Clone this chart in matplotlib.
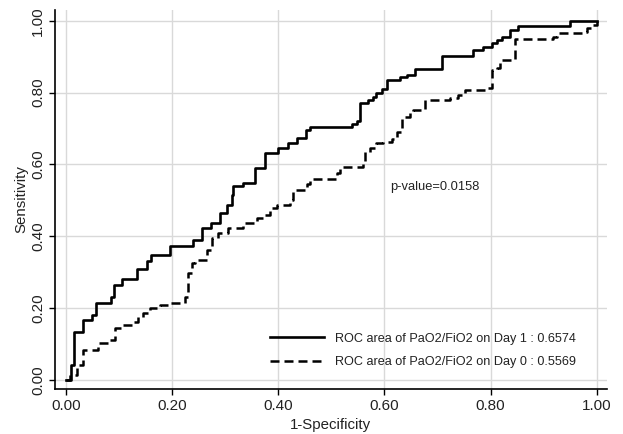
import matplotlib.pyplot as plt

plt.rcParams['font.family'] = ['Liberation Sans', 'DejaVu Sans']

# ROC points (1-specificity, sensitivity)
fpr_day1 = [0.0, 0.009, 0.015, 0.033, 0.049, 0.057, 0.085, 0.090, 0.105, 0.134,
            0.152, 0.160, 0.196, 0.239, 0.256, 0.273, 0.290, 0.303, 0.312, 0.315,
            0.334, 0.356, 0.375, 0.400, 0.419, 0.435, 0.452, 0.460, 0.538, 0.548,
            0.554, 0.570, 0.578, 0.585, 0.595, 0.604, 0.629, 0.642, 0.658, 0.708,
            0.767, 0.786, 0.802, 0.812, 0.821, 0.837, 0.852, 0.950, 1.0]
tpr_day1 = [0.0, 0.042, 0.134, 0.167, 0.181, 0.215, 0.232, 0.264, 0.281, 0.309,
            0.331, 0.348, 0.373, 0.390, 0.423, 0.438, 0.465, 0.487, 0.515, 0.540,
            0.548, 0.589, 0.631, 0.645, 0.661, 0.673, 0.696, 0.705, 0.712, 0.721,
            0.770, 0.779, 0.788, 0.798, 0.809, 0.835, 0.844, 0.849, 0.867, 0.902,
            0.918, 0.928, 0.937, 0.946, 0.954, 0.974, 0.986, 1.0, 1.0]

fpr_day0 = [0.0, 0.0075, 0.020, 0.033, 0.061, 0.083, 0.092, 0.105, 0.124, 0.136,
            0.145, 0.158, 0.177, 0.196, 0.224, 0.230, 0.237, 0.243, 0.265, 0.275,
            0.287, 0.306, 0.334, 0.359, 0.375, 0.384, 0.397, 0.422, 0.428, 0.454,
            0.460, 0.510, 0.516, 0.560, 0.563, 0.573, 0.585, 0.598, 0.614, 0.623,
            0.633, 0.648, 0.654, 0.676, 0.724, 0.739, 0.752, 0.796, 0.802, 0.812,
            0.818, 0.846, 0.846, 0.918, 0.925, 0.975, 0.981, 0.991, 1.0]
tpr_day0 = [0.0, 0.014, 0.042, 0.083, 0.102, 0.111, 0.144, 0.153, 0.162, 0.176,
            0.186, 0.200, 0.209, 0.215, 0.232, 0.297, 0.325, 0.334, 0.362, 0.396,
            0.408, 0.422, 0.436, 0.450, 0.459, 0.478, 0.487, 0.501, 0.529, 0.545,
            0.559, 0.575, 0.594, 0.603, 0.635, 0.645, 0.659, 0.663, 0.670, 0.691,
            0.733, 0.742, 0.751, 0.779, 0.784, 0.793, 0.807, 0.812, 0.863, 0.868,
            0.891, 0.895, 0.948, 0.956, 0.965, 0.969, 0.979, 0.988, 1.0]

label_day1 = 'ROC area of PaO2/FiO2 on Day 1 : 0.6574'
label_day0 = 'ROC area of PaO2/FiO2 on Day 0 : 0.5569'
ticks = [0.0, 0.2, 0.4, 0.6, 0.8, 1.0]
tick_labels = ['0.00', '0.20', '0.40', '0.60', '0.80', '1.00']

fig = plt.figure(figsize=(6.23, 4.34), dpi=100)
ax = fig.add_axes([0.088, 0.104, 0.886, 0.873])

ax.plot(fpr_day1, tpr_day1, drawstyle='steps-post', color='black', lw=1.9,
        label=label_day1)
ax.plot(fpr_day0, tpr_day0, drawstyle='steps-post', color='black', lw=1.8,
        dashes=(3.6, 2.0), label=label_day0)

ax.set_xlim(-0.021, 1.019)
ax.set_ylim(-0.025, 1.03)
ax.set_xticks(ticks)
ax.set_xticklabels(tick_labels, fontsize=11, color='#222222')
ax.set_yticks(ticks)
ax.set_yticklabels(tick_labels, fontsize=11, rotation=90, va='center',
                   color='#222222')
ax.tick_params(direction='out', length=4, width=1, color='black', pad=3)
ax.grid(True, color='#d9d9d9', lw=1)
ax.set_axisbelow(True)
for s in ['top', 'right']:
    ax.spines[s].set_visible(False)
for s in ['left', 'bottom']:
    ax.spines[s].set_linewidth(1.2)

ax.set_xlabel('1-Specificity', fontsize=10.8, labelpad=4, color='#222222')
ax.set_ylabel('Sensitivity', fontsize=10.8, labelpad=2, color='#222222')

ax.text(0.61, 0.537, 'p-value=0.0158', fontsize=9.3, ha='left', va='center',
        color='#222222')

ax.legend(loc='upper left', bbox_to_anchor=(0.389, 0.148), frameon=False,
          fontsize=9.1, handlelength=4.3, handletextpad=0.85, labelspacing=0.9,
          borderpad=0, borderaxespad=0, labelcolor='#222222')

fig.savefig('out.png', dpi=100)
